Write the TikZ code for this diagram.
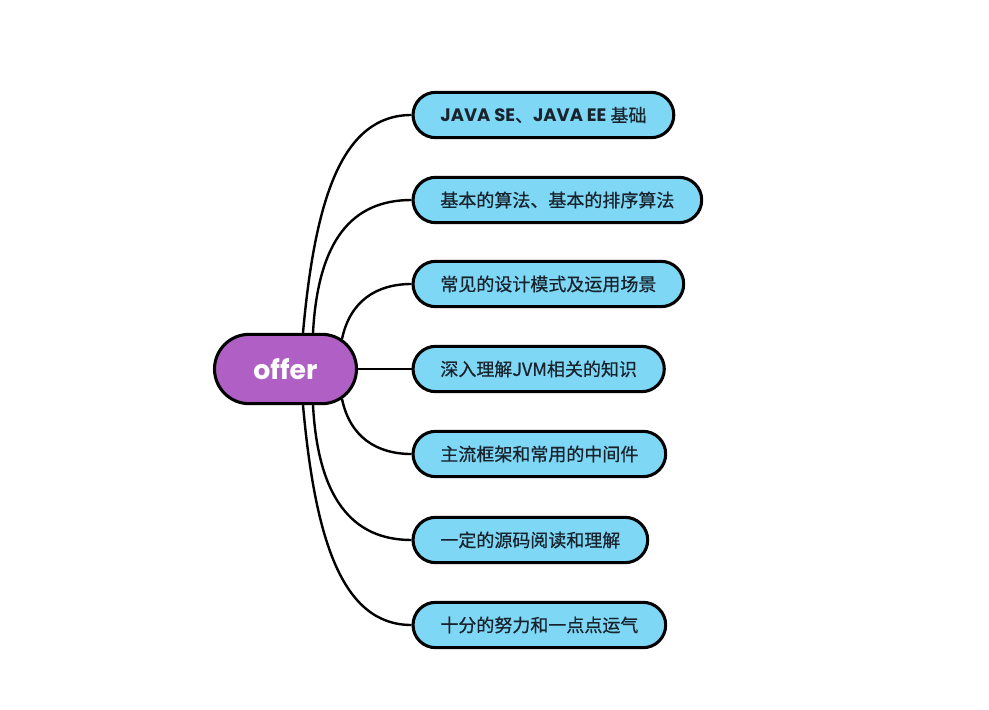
\documentclass[tikz,border=0pt]{standalone}
\usepackage{fontspec}
\setmainfont{Poppins}
\newfontfamily\lat{Poppins}
\newfontfamily\cjk{Noto Sans CJK SC}[FakeBold=0.6]
\usetikzlibrary{calc,backgrounds}
\definecolor{boxblue}{RGB}{125,215,245}
\definecolor{rootpurple}{RGB}{176,96,196}
\definecolor{txt}{RGB}{25,35,45}
\begin{document}
\begin{tikzpicture}[x=0.75pt,y=-0.75pt,
  leaf/.style={draw=black, line width=2.3pt, fill=boxblue, rounded corners=17pt,
    minimum height=34pt, inner xsep=20.5pt, anchor=west,
    font=\cjk\fontsize{13.5}{16}\selectfont, text=txt},
  rootbox/.style={draw=black, line width=2.3pt, fill=rootpurple, rounded corners=26pt,
    minimum width=106.5pt, minimum height=52pt, text=white,
    font=\lat\bfseries\fontsize{20}{24}\selectfont},
  link/.style={draw=black, line width=1.8pt}]
\useasboundingbox (0,0) rectangle (989,710);
\node[rootbox] (root) at (285.5,369) {offer};
\node[leaf] (l1) at (411.5,115) {{\lat\bfseries JAVA SE}、{\lat\bfseries JAVA EE} 基础};
\node[leaf] (l2) at (411.5,200) {基本的算法、基本的排序算法};
\node[leaf] (l3) at (411.5,284) {常见的设计模式及运用场景};
\node[leaf] (l4) at (411.5,369) {深入理解JVM相关的知识};
\node[leaf] (l5) at (411.5,454) {主流框架和常用的中间件};
\node[leaf] (l6) at (411.5,540) {一定的源码阅读和理解};
\node[leaf] (l7) at (411.5,625) {十分的努力和一点点运气};
\begin{pgfonlayer}{background}
\draw[link] ($(root.north)+(17.5,0)$) .. controls +(12,-133) and +(-70,0) .. (l1.west);
\draw[link] ($(root.north)+(27.5,0)$) .. controls +(5,-92) and +(-60,0) .. (l2.west);
\draw[link] ($(root.center)+(56.5,-30)$) .. controls +(8,-38) and +(-35,0) .. (l3.west);
\draw[link] (root.east) -- (l4.west);
\draw[link] ($(root.center)+(56.5,30)$) .. controls +(8,38) and +(-35,0) .. (l5.west);
\draw[link] ($(root.south)+(27.5,0)$) .. controls +(5,92) and +(-60,0) .. (l6.west);
\draw[link] ($(root.south)+(17.5,0)$) .. controls +(12,133) and +(-70,0) .. (l7.west);
\end{pgfonlayer}
\end{tikzpicture}
\end{document}
